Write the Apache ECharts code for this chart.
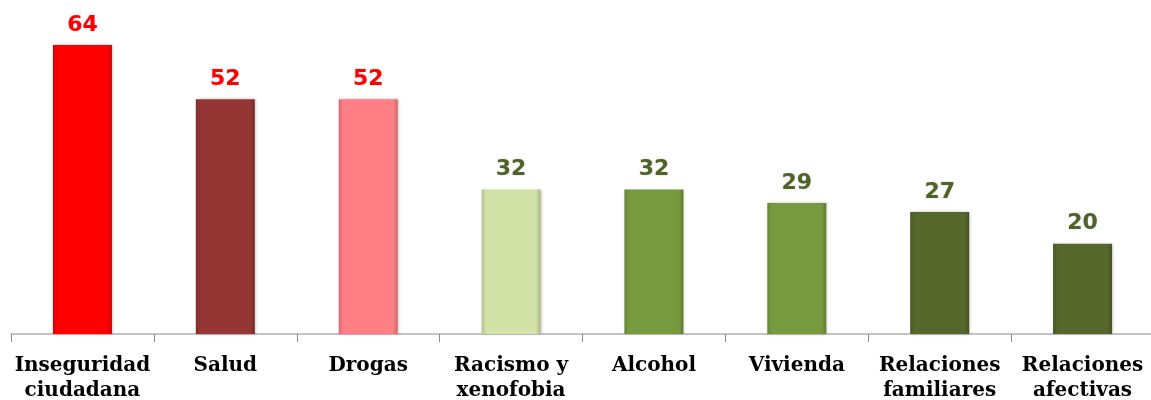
<!DOCTYPE html>
<html>
<head>
<meta charset="utf-8">
<script src="https://cdn.jsdelivr.net/npm/echarts@6/dist/echarts.min.js"></script>
<style>
  html, body { margin: 0; padding: 0; background: #fff; }
  #chart { width: 1151px; height: 400px; }
</style>
</head>
<body>
<div id="chart"></div>
<script>
const categories = ['Inseguridad\nciudadana', 'Salud', 'Drogas', 'Racismo y\nxenofobia', 'Alcohol', 'Vivienda', 'Relaciones\nfamiliares', 'Relaciones\nafectivas']
const values = [64, 52, 52, 32, 32, 29, 27, 20]
const barColors = ['#FF0000', '#963634', '#FF7F85', '#D3E3A8', '#789A3E', '#789A3E', '#56672C', '#56672C']
const labelColors = ['#FF0000', '#FF0000', '#FF0000', '#4F6228', '#4F6228', '#4F6228', '#4F6228', '#4F6228']

const chart = echarts.init(document.getElementById('chart'))

function shade(hex, amt) {
  const n = parseInt(hex.slice(1), 16)
  let r = (n >> 16) & 255, g = (n >> 8) & 255, b = n & 255
  r = Math.max(0, Math.min(255, Math.round(r * amt)))
  g = Math.max(0, Math.min(255, Math.round(g * amt)))
  b = Math.max(0, Math.min(255, Math.round(b * amt)))
  return 'rgb(' + r + ',' + g + ',' + b + ')'
}

const seriesData = values.map((v, i) => ({
  value: v,
  itemStyle: {
    color: new echarts.graphic.LinearGradient(0, 0, 1, 0, [
      { offset: 0, color: shade(barColors[i], 0.85) },
      { offset: 0.08, color: barColors[i] },
      { offset: 0.92, color: barColors[i] },
      { offset: 1, color: shade(barColors[i], 0.8) }
    ]),
    shadowColor: 'rgba(0,0,0,0.25)',
    shadowBlur: 3,
    shadowOffsetX: 1
  },
  label: { color: labelColors[i] }
}))

chart.setOption({
  animation: false,
  grid: { left: 11, right: -3, top: 45, bottom: 66, outerBoundsMode: 'none', containLabel: false },
  xAxis: {
    type: 'category',
    data: categories,
    axisLine: { lineStyle: { color: '#B0B0B0', width: 1.5 } },
    axisTick: { show: true, length: 8, lineStyle: { color: '#8C8C8C' } },
    axisLabel: {
      interval: 0,
      margin: 19,
      color: '#000',
      fontFamily: 'DejaVu Serif',
      fontWeight: 'bold',
      fontSize: 20,
      lineHeight: 25
    }
  },
  yAxis: {
    type: 'value',
    min: 0,
    max: 64,
    show: false,
    splitLine: { show: false }
  },
  series: [{
    type: 'bar',
    barWidth: 59,
    data: seriesData,
    label: {
      show: true,
      position: 'top',
      distance: 9,
      fontFamily: 'DejaVu Sans',
      fontWeight: 'bold',
      fontSize: 22,
      textShadowColor: 'rgba(0,0,0,0.2)',
      textShadowBlur: 2
    }
  }]
})
</script>
</body>
</html>
